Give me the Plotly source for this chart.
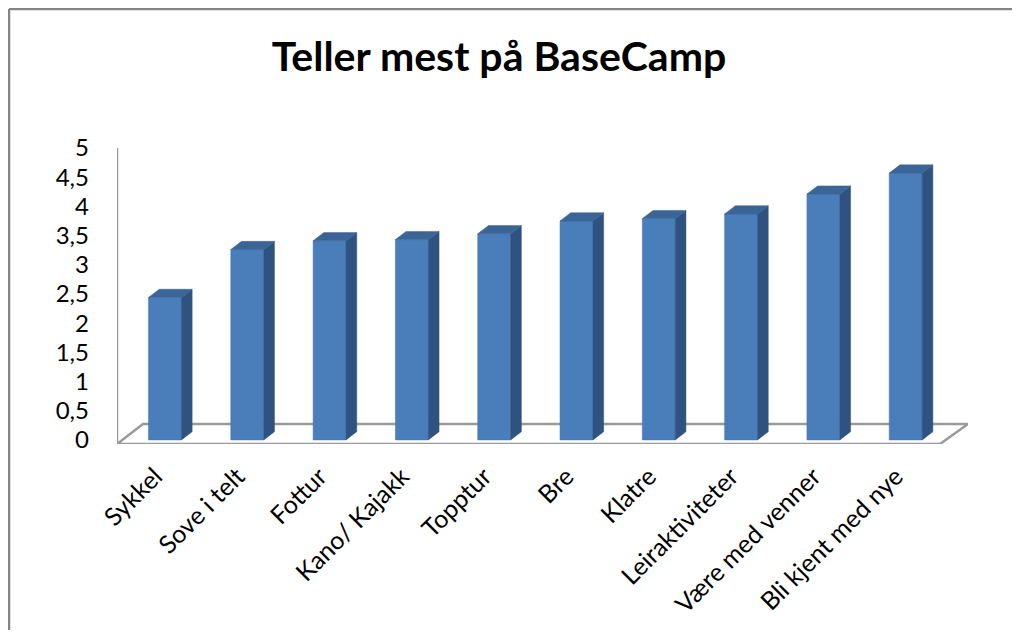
import plotly.graph_objects as go

# Data
categories = ["Sykkel", "Sove i telt", "Fottur", "Kano/ Kajakk", "Topptur",
              "Bre", "Klatre", "Leiraktiviteter", "Være med venner", "Bli kjent med nye"]
values = [2.44, 3.26, 3.41, 3.43, 3.53, 3.75, 3.79, 3.87, 4.21, 4.57]
y_ticks = [0, 0.5, 1, 1.5, 2, 2.5, 3, 3.5, 4, 4.5, 5]
y_ticktext = ["0", "0,5", "1", "1,5", "2", "2,5", "3", "3,5", "4", "4,5", "5"]

# page body has an 8px margin, so work in reference pixels minus OFF
OFF = 8
W, H = 1020 - 2 * OFF, 638 - 2 * OFF
L, T = 117 - OFF, 145 - OFF
R = W - (968 - OFF)
B = H - (444 - OFF)
plot_w, plot_h = W - L - R, H - T - B
x_range = [-0.583, 9.757]
y_range = [-0.07, 5.05]

bar_w = 0.40
ddx, ddy = 0.13, 0.14  # depth offset (x in category units, y in value units)
label_shift = 0.12     # category labels sit a little left of the bar centre

front = "#4A7EBB"
side = "#2F5381"
top = "#3B6597"

xs = list(range(len(categories)))

side_x, side_y, top_x, top_y = [], [], [], []
for i, v in zip(xs, values):
    r = i + bar_w / 2
    l = i - bar_w / 2
    side_x += [r, r + ddx, r + ddx, r, r, None]
    side_y += [0, ddy, v + ddy, v, 0, None]
    top_x += [l, l + ddx, r + ddx, r, l, None]
    top_y += [v, v + ddy, v + ddy, v, v, None]

fig = go.Figure()
fig.add_trace(go.Scatter(x=side_x, y=side_y, fill="toself", fillcolor=side,
                         mode="lines", line=dict(color=side, width=0.5),
                         hoverinfo="skip"))
fig.add_trace(go.Scatter(x=top_x, y=top_y, fill="toself", fillcolor=top,
                         mode="lines", line=dict(color=top, width=0.5),
                         hoverinfo="skip"))
fig.add_trace(go.Bar(x=xs, y=values, width=bar_w,
                     marker=dict(color=front, line=dict(color="#3F6FA6", width=0.5))))


# helpers taking reference-image pixel positions
def px_x(p):
    return (p - OFF - L) / plot_w


def px_y(p):
    return 1 - (p - OFF - T) / plot_h


def val_x(p):
    return x_range[0] + (p - OFF - L) / plot_w * (x_range[1] - x_range[0])


def val_y(p):
    return y_range[0] + (H - B - (p - OFF)) / plot_h * (y_range[1] - y_range[0])


floor_col = "#9A9A9A"
shapes = [
    # floor
    dict(type="path", xref="x", yref="y", layer="below",
         path=f"M {val_x(117)},{val_y(444)} L {val_x(143)},{val_y(424)} "
              f"L {val_x(968)},{val_y(424)} L {val_x(940)},{val_y(444)} Z",
         line=dict(color=floor_col, width=2.5)),
    # vertical axis
    dict(type="line", xref="x", yref="y", x0=val_x(117), x1=val_x(117),
         y0=val_y(444), y1=val_y(148), line=dict(color=floor_col, width=2.5)),
    # outer frame
    dict(type="line", xref="paper", yref="paper", x0=px_x(9), x1=px_x(9),
         y0=px_y(9), y1=px_y(640), line=dict(color="#858585", width=2.5)),
    dict(type="line", xref="paper", yref="paper", x0=px_x(9), x1=px_x(1022),
         y0=px_y(9), y1=px_y(9), line=dict(color="#858585", width=2.5)),
]

fig.update_layout(
    width=W, height=H,
    margin=dict(l=L, r=R, t=T, b=B, autoexpand=False),
    paper_bgcolor="white", plot_bgcolor="white",
    showlegend=False,
    font=dict(family="Lato, Carlito, sans-serif", color="black"),
    title=dict(text="<b>Teller mest på BaseCamp</b>", xref="container",
               x=(499 - OFF) / W, xanchor="center",
               y=1 - (57 - OFF) / H, yanchor="middle",
               font=dict(size=41, color="black")),
    shapes=shapes,
)
fig.update_xaxes(range=x_range, tickmode="array",
                 tickvals=[i - label_shift for i in xs], ticktext=categories,
                 tickangle=-45, tickfont=dict(size=25), showgrid=False,
                 zeroline=False, showline=False, ticks="", ticklabelstandoff=12,
                 automargin=False)
fig.update_yaxes(range=y_range, tickmode="array", tickvals=y_ticks, ticktext=y_ticktext,
                 tickfont=dict(size=24), showgrid=False, zeroline=False,
                 showline=False, ticks="", ticklabelstandoff=27, automargin=False)

fig.write_html("out.html")
